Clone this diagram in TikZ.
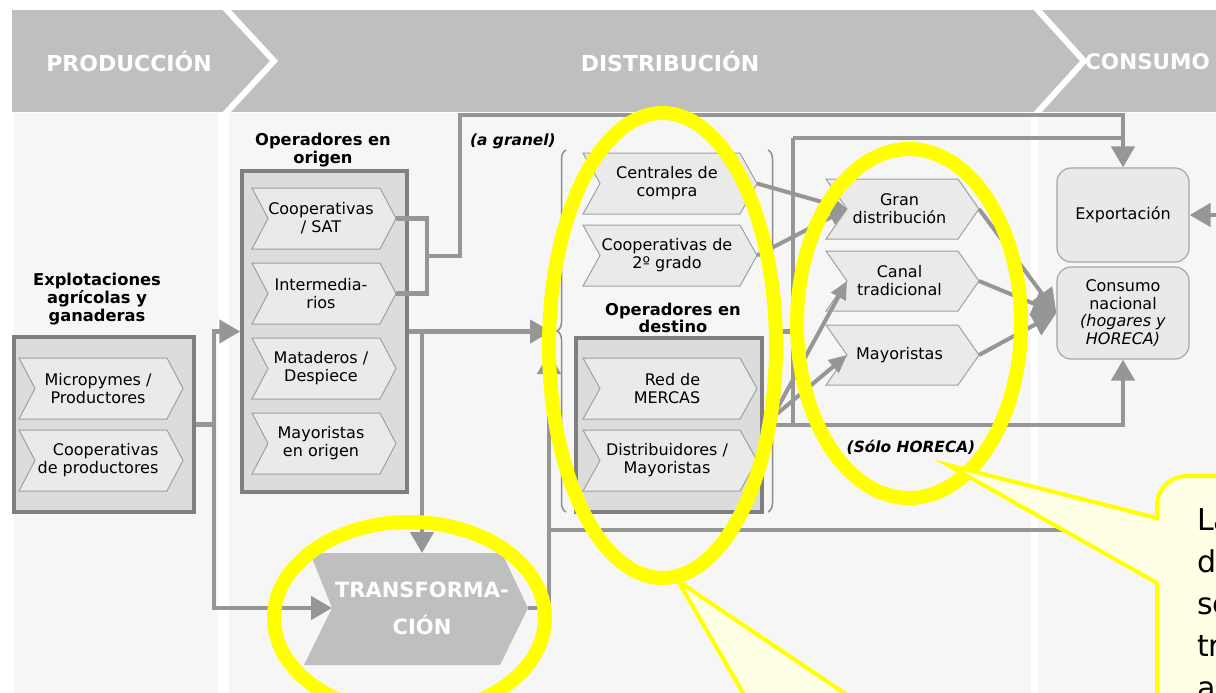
\documentclass[tikz,border=0pt]{standalone}
\usepackage{fontspec}
\setmainfont{DejaVu Sans}
\usetikzlibrary{arrows.meta,decorations.pathreplacing}
\definecolor{bannergray}{HTML}{BFBFBF}
\definecolor{colbg}{HTML}{F6F6F6}
\definecolor{boxfill}{HTML}{DCDCDC}
\definecolor{boxborder}{HTML}{7F7F7F}
\definecolor{chevfill}{HTML}{EAEAEA}
\definecolor{chevborder}{HTML}{A0A0A0}
\definecolor{conncol}{HTML}{969696}
\definecolor{rboxfill}{HTML}{E9E9E9}
\definecolor{rboxborder}{HTML}{A6A6A6}
\definecolor{ringyellow}{HTML}{FFFF00}
\definecolor{callfill}{HTML}{FFFFE6}
\definecolor{bracecol}{HTML}{8C8C8C}
\tikzset{
 conn/.style={draw=conncol, line width=4.5pt},
 arr/.style={-{Triangle[length=21pt,width=23pt]}},
 sarr/.style={-{Triangle[length=18pt,width=16pt]}},
 barr/.style={-{Triangle[length=24pt,width=24pt]}},
 diag/.style={draw=conncol, line width=4pt},
 frame/.style={draw=boxborder, fill=boxfill, line width=3.5pt, inner sep=0pt},
 chevbox/.style={draw=chevborder, fill=chevfill, line width=1pt},
 chevtext/.style={font=\fontsize{16}{18}\selectfont, align=center, inner sep=0pt, text=black},
 head/.style={font=\fontsize{16.3}{17.8}\selectfont\bfseries, align=center, inner sep=0pt},
 note/.style={font=\fontsize{15.4}{17.5}\selectfont\bfseries\itshape, inner sep=0pt},
 banner/.style={font=\fontsize{22}{26}\selectfont\bfseries, text=white, inner sep=0pt},
 rbox/.style={draw=rboxborder, fill=rboxfill, line width=1.2pt, rounded corners=14pt, inner sep=0pt, font=\fontsize{16}{17.5}\selectfont, align=center},
 ring/.style={draw=ringyellow, line width=14pt},
 callout/.style={draw=ringyellow, fill=callfill, line width=4pt, line join=miter},
 calltext/.style={font=\fontsize{30}{36}\selectfont, inner sep=0pt, anchor=base west},
 bracestyle/.style={draw=bracecol, line width=1.5pt, decorate, decoration={brace, amplitude=9pt}},
 transfbox/.style={fill=bannergray},
 transftext/.style={font=\fontsize{21}{37}\selectfont\bfseries, text=white, align=center, inner sep=0pt},
}
% #1 name, #2 x left, #3 y top, #4 width, #5 height, #6 depth, #7 text, #8 extra options
\newcommand\chevshape[8]{%
  \draw[chevbox] (#2,#3) -- ++({#4-#6},0) -- ++(#6,{#5/2}) -- ++(-#6,{#5/2}) -- ++({-(#4-#6)},0) -- ++(#6,{-#5/2}) -- cycle;
  \coordinate (#1-tip) at ({#2+#4},{#3+#5/2});
  \coordinate (#1-notch) at ({#2+#6},{#3+#5/2});
  \node[chevtext,#8] (#1) at ({#2+#4/2-3},{#3+#5/2}) {#7};
}
\begin{document}
\begin{tikzpicture}[x=1pt,y=-1pt]
\useasboundingbox (0,0) rectangle (1216,693);
\clip (0,0) rectangle (1216,693);
\fill[white] (0,0) rectangle (1216,693);
% columns
\fill[colbg] (14,113) rectangle (218,693);
\fill[colbg] (229,113) rectangle (1031,693);
\fill[colbg] (1038,113) rectangle (1216,693);
% banner
\fill[bannergray] (12,10) rectangle (1216,112);
\draw[white, line width=6pt] (225,8) -- (274,61) -- (225,114);
\draw[white, line width=6pt] (1036,8) -- (1084,61) -- (1036,114);
\node[banner] (bprod) at (129,61) {PRODUCCIÓN};
\node[banner] (bdist) at (670,61) {DISTRIBUCIÓN};
\node[banner, anchor=west, font=\fontsize{21.5}{25}\selectfont\bfseries] (bcons) at (1085,62) {CONSUMO};

% headings
\node[head] (hexp) at (97,299) {Explotaciones\\agrícolas y\\ganaderas};
\node[head] (hoo) at (323,150) {Operadores en\\origen};
\node[head] (hod) at (673,318) {Operadores en\\destino};
\node[note, anchor=west] (granel) at (470,141) {(a granel)};
\node[note] (horeca) at (911,447) {(Sólo HORECA)};

% frames
\node[frame, minimum width=180pt, minimum height=175pt] (exbox) at (104,424.5) {};
\node[frame, minimum width=165pt, minimum height=321pt] (oobox) at (324.5,331.5) {};
\node[frame, minimum width=186pt, minimum height=174pt] (ddbox) at (669,425) {};

% chevrons
\chevshape{micro}{19}{358}{164}{61}{16}{Micropymes /\\Productores}{}
\chevshape{coopp}{19}{430}{164}{61}{16}{Cooperativas\\de productores}{align=right}
\chevshape{coop}{252}{188}{144}{61}{16}{Cooperativas\\/ SAT}{}
\chevshape{inter}{252}{263}{144}{61}{16}{Intermedia-\\rios}{}
\chevshape{matad}{252}{338}{144}{61}{16}{Mataderos /\\Despiece}{}
\chevshape{mayo}{252}{413}{144}{61}{16}{Mayoristas\\en origen}{}
\chevshape{centr}{583}{153}{174}{61}{17}{Centrales de\\compra}{}
\chevshape{coopb}{583}{225}{174}{61}{17}{Cooperativas de\\2º grado}{}
\chevshape{red}{583}{358}{174}{61}{17}{Red de\\MERCAS}{align=right}
\chevshape{distr}{583}{430}{174}{61}{17}{Distribuidores /\\Mayoristas}{}
\chevshape{gran}{826}{179}{153}{60}{21}{Gran\\distribución}{}
\chevshape{canal}{826}{251}{153}{60}{21}{Canal\\tradicional}{}
\chevshape{mayd}{826}{325}{153}{60}{21}{Mayoristas}{}

% transformation
\fill[transfbox] (310,553) -- (502,553) -- (528,608) -- (500,665) -- (304,665) -- (332,608) -- cycle;
\coordinate (transf-tip) at (528,608);
\coordinate (transf-notch) at (332,608);
\coordinate (transf-top) at (422,553);
\node[transftext] (transf) at (422,608) {TRANSFORMA-\\CIÓN};

% consumption boxes
\node[rbox, minimum width=132pt, minimum height=94pt] (export) at (1123,215) {Exportación};
\node[rbox, minimum width=132pt, minimum height=92pt] (consumo) at (1123,313) {Consumo\\nacional\\\textit{(hogares y}\\\textit{HORECA)}};

% braces
\draw[bracestyle] (566,512) -- (566,150);
\draw[bracestyle] (768,150) -- (768,512);
\coordinate (lbrace) at (551,331.5);
\coordinate (rbrace) at (778,331.5);
\coordinate (upin) at (549,353);

% connectors
\draw[conn] (exbox.east) -- ++(18,0) coordinate (j1);
\draw[conn,arr] (j1) |- (oobox.west);
\draw[conn,arr] (j1) |- (transf-notch);
\draw[conn,arr] (oobox.east) -- (lbrace);
\coordinate (j2) at (422,331.5);
\draw[conn,arr] (j2) -- (transf-top);
\draw[conn] (coop-tip) -- ++(31,0) |- (inter-tip);
\coordinate (j3) at (427,256);
\draw[conn,arr] (j3) -- (460,256) -- (460,115) -- (1123,115) -- (export.north);
\draw[conn,arr] (transf-tip) -- (549,608) -- (upin);
\draw[conn,arr] (549,530) -- (1245,530) -- (1245,215) -- (export.east);
\draw[conn] (rbrace) -- (793,331.5);
\draw[conn] (793,138) -- (793,425);
\draw[conn] (793,138) -- (1123,138);
\draw[conn,arr] (ddbox.east) -- (1123,425) -- (consumo.south);
\draw[diag,sarr] (centr-tip) -- (gran-notch);
\draw[diag,sarr] (coopb-tip) -- (gran-notch);
\coordinate (fan) at (772,418);
\draw[diag,sarr] (fan) -- (canal-notch);
\draw[diag,sarr] (fan) -- (mayd-notch);
\draw[diag,barr] (gran-tip) -- (consumo.west);
\draw[diag,barr] (canal-tip) -- (consumo.west);
\draw[diag,barr] (mayd-tip) -- (consumo.west);

% highlight rings
\draw[ring] (409.5,618) ellipse [x radius=135.5, y radius=96];
\draw[ring] (662.5,345.5) ellipse [x radius=113.5, y radius=232.5];
\draw[ring] (909,323.5) ellipse [x radius=112, y radius=174.5];

% callouts
\draw[callout] (678,581) -- (862,705) -- (750,705) -- cycle;
\draw[callout] (948,465) -- (1157,518) -- (1157,506) .. controls (1157,489) and (1170,476) .. (1187,476) -- (1300,476) -- (1300,760) -- (1157,760) -- (1157,583) -- cycle;
\node[calltext] (cl1) at (1197,530) {La};
\node[calltext] (cl2) at (1197,572) {d};
\node[calltext] (cl3) at (1197,614) {se};
\node[calltext] (cl4) at (1197,656) {tr};
\node[calltext] (cl5) at (1197,698) {a};
\end{tikzpicture}
\end{document}
